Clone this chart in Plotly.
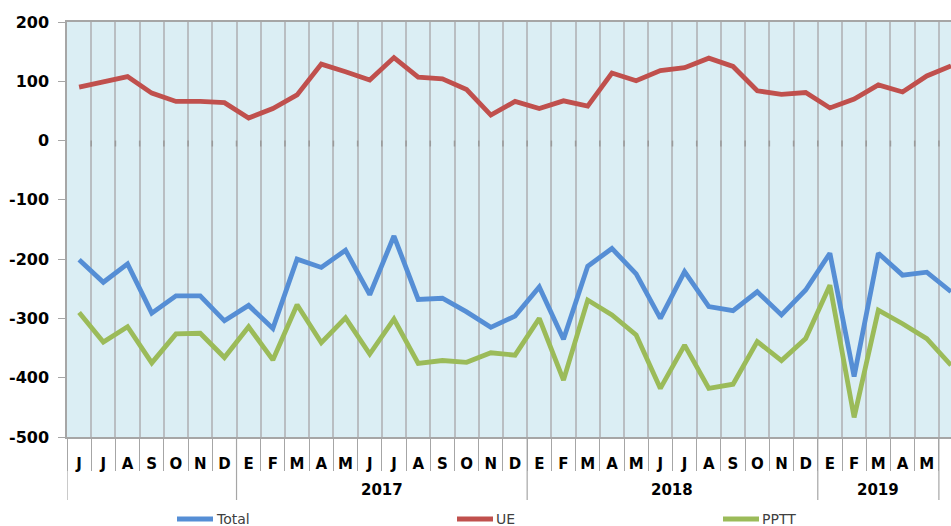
import plotly.graph_objects as go

# ---------------- data ----------------
month_labels = ["J", "J", "A", "S", "O", "N", "D",
                "E", "F", "M", "A", "M", "J", "J", "A", "S", "O", "N", "D",
                "E", "F", "M", "A", "M", "J", "J", "A", "S", "O", "N", "D",
                "E", "F", "M", "A", "M"]
years = ["2017", "2018", "2019"]
year_start = [7, 19, 31]          # index of first month of each year group
year_end = [18, 30, 35]           # index of last labelled month of each group

total = [-201, -239, -208, -291, -262, -262, -304, -278, -317, -200, -214, -185, -260,
         -161, -268, -266, -289, -315, -296, -247, -335, -212, -182, -225, -300, -221,
         -280, -287, -255, -294, -252, -190, -398, -190, -227, -222, -255]
ue = [90, 99, 108, 80, 66, 66, 64, 38, 54, 77, 129, 116, 102,
      140, 107, 104, 86, 43, 66, 54, 67, 58, 114, 101, 118, 123,
      139, 125, 84, 78, 81, 55, 70, 94, 82, 109, 126]
pptt = [-290, -340, -314, -375, -326, -325, -366, -314, -370, -277, -341, -299, -360,
        -301, -376, -371, -374, -358, -362, -300, -404, -269, -294, -328, -418, -345,
        -418, -411, -339, -371, -334, -244, -467, -286, -309, -334, -379]

series_names = ["Total", "UE", "PPTT"]
colors = ["#558ED5", "#C0504D", "#9BBB59"]
y_ticks = [200, 100, 0, -100, -200, -300, -400, -500]

# --------------- figure ---------------
W, H = 951, 526
L, T = 67, 22
PH = 415                     # plot height in px (22 -> 437)
PW = W - L                   # plot width in px
B = H - T - PH

x = list(range(len(total)))
fig = go.Figure()
for name, vals, col in zip(series_names, [total, ue, pptt], colors):
    fig.add_trace(go.Scatter(x=x, y=vals, mode="lines", name=name,
                             line=dict(color=col, width=4.8), showlegend=False))

FONT = "DejaVu Sans, Verdana, sans-serif"
grid_col = "#B9BEC2"
axis_col = "#A6A6A6"

boundaries = [i - 0.5 for i in range(len(month_labels) + 1)]

fig.update_layout(
    width=W, height=H,
    margin=dict(l=L, r=0, t=T, b=B, pad=0),
    paper_bgcolor="white",
    plot_bgcolor="#DBEEF4",
    font=dict(family=FONT, color="black"),
    xaxis=dict(
        range=[-0.5, 36.0],
        tickmode="array",
        tickvals=list(range(len(month_labels))),
        ticktext=month_labels,
        ticks="",
        showgrid=False,
        zeroline=False,
        showline=True, linecolor=axis_col, linewidth=1.5, mirror=True,
        tickfont=dict(family=FONT, size=15, color="black", weight="bold"),
        ticklabelstandoff=12,
        minor=dict(tickmode="array", tickvals=boundaries, ticks="outside",
                   ticklen=32, tickcolor=axis_col, tickwidth=1.2,
                   showgrid=True, gridcolor=grid_col, gridwidth=1.5),
    ),
    yaxis=dict(
        range=[-500, 200],
        tickmode="array",
        tickvals=y_ticks,
        ticktext=[str(v) for v in y_ticks],
        ticks="outside", ticklen=7, tickcolor=axis_col, tickwidth=1.2,
        showgrid=False, zeroline=False,
        showline=True, linecolor=axis_col, linewidth=1.5,
        tickfont=dict(family=FONT, size=16, color="black", weight="bold"),
        ticklabelstandoff=6,
    ),
)

shapes = []
# small tick marks where the category axis crosses zero
for b in boundaries[1:]:
    shapes.append(dict(type="line", xref="x", yref="y", x0=b, x1=b, y0=0, y1=-10,
                       line=dict(color="#9A9A9A", width=1.5), layer="above"))
# year group separators (longer)
for b in [-0.5] + [s - 0.5 for s in year_start] + [year_end[-1] + 0.5]:
    shapes.append(dict(type="line", xref="x", yref="paper", x0=b, x1=b,
                       y0=0, y1=-63 / PH, line=dict(color=axis_col, width=1.2)))

annotations = []
for yr, s, e in zip(years, year_start, year_end):
    annotations.append(dict(x=(s + e) / 2, y=-53 / PH, xref="x", yref="paper",
                            text=yr, showarrow=False, xanchor="center", yanchor="middle",
                            font=dict(family=FONT, size=15, color="black", weight="bold")))

# legend drawn manually at the bottom (page x positions)
legend_x = [177, 457, 723]
for name, col, lx in zip(series_names, colors, legend_x):
    yl = -(519 - 437) / PH
    shapes.append(dict(type="line", xref="paper", yref="paper",
                       x0=(lx - L) / PW, x1=(lx + 36 - L) / PW,
                       y0=yl, y1=yl, line=dict(color=col, width=4.8)))
    annotations.append(dict(x=(lx + 37 - L) / PW, y=yl,
                            xref="paper", yref="paper", text=name, showarrow=False,
                            xanchor="left", yanchor="middle",
                            font=dict(family=FONT, size=14, color="#404040")))

fig.update_layout(shapes=shapes, annotations=annotations)
fig.write_html(
    "out.html",
    config={"displayModeBar": False},
    post_script="document.body.style.margin='0';document.body.style.overflow='hidden';",
)
